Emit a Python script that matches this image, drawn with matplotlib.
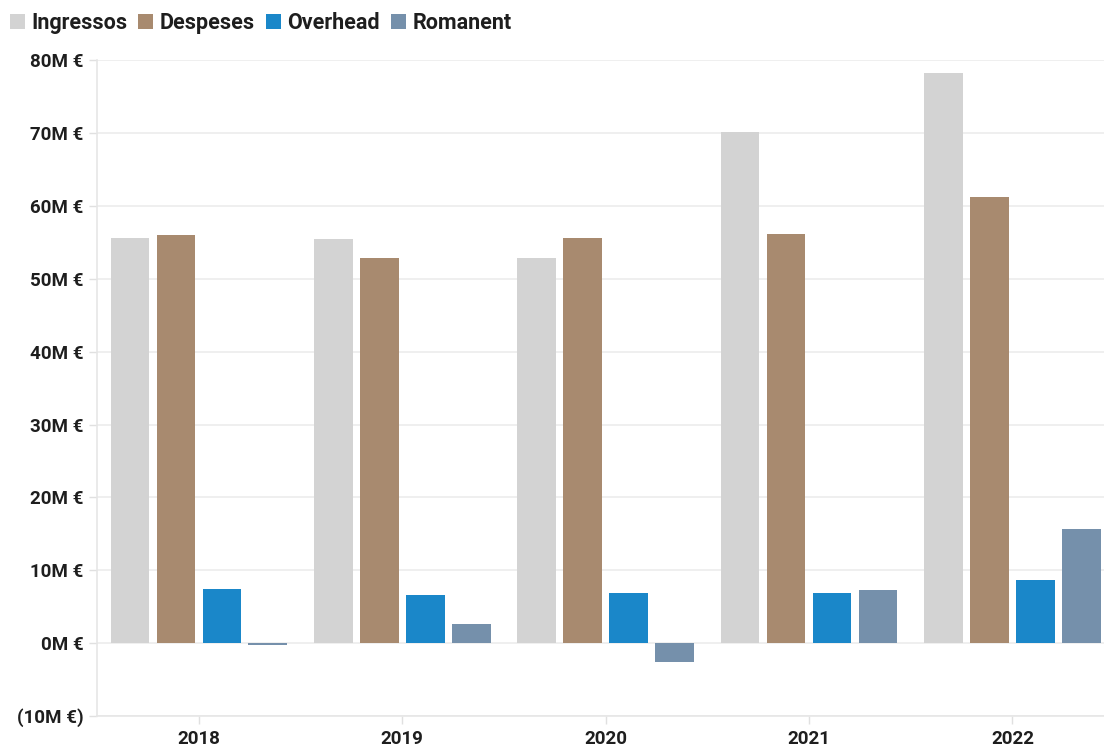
import matplotlib.pyplot as plt
import numpy as np

# Ingressos / Despeses / Overhead / Romanent per year (M €)
years = ['2018', '2019', '2020', '2021', '2022']
ingressos = [55.6, 55.4, 52.8, 70.2, 78.2]
despeses = [56.0, 52.8, 55.6, 56.1, 61.2]
overhead = [7.4, 6.6, 6.9, 6.9, 8.6]
romanent = [-0.3, 2.6, -2.6, 7.3, 15.6]

yticks = [-10, 0, 10, 20, 30, 40, 50, 60, 70, 80]
ylabels = ['(10M €)'] + ['%dM €' % v for v in yticks[1:]]

plt.rcParams['font.family'] = ['Roboto', 'DejaVu Sans']

fig = plt.figure(figsize=(11.04, 7.47), dpi=100)
ax = fig.add_axes([0.088, 0.0415, 0.912, 0.878])

x = np.arange(len(years))
w = 0.19
step = 0.226
series = [('Ingressos', ingressos, '#d3d3d3'),
          ('Despeses', despeses, '#a88a6f'),
          ('Overhead', overhead, '#1a87c9'),
          ('Romanent', romanent, '#7590ab')]
for i, (name, vals, col) in enumerate(series):
    ax.bar(x + (i - 1.5) * step, vals, w, color=col, label=name, zorder=3)

ax.set_ylim(-10, 80)
ax.set_xlim(-0.5, 4.45)
ax.set_yticks(yticks)
ax.set_yticklabels(ylabels, fontsize=13.5, fontweight='bold')
ax.set_xticks(x)
ax.set_xticklabels(years, fontsize=13.5, fontweight='bold')
ax.grid(axis='y', color='#ececec', linewidth=1.2, zorder=0)
for s in ['top', 'right']:
    ax.spines[s].set_visible(False)
for s in ['left', 'bottom']:
    ax.spines[s].set_color('#e6e6e6')
    ax.spines[s].set_linewidth(1.2)
ax.tick_params(axis='both', color='#e0e0e0', length=6, width=1, pad=4, labelcolor='#1e1e1e')

leg = fig.legend(loc='upper left', bbox_to_anchor=(10 / 1104, 1 - 12 / 747), ncol=4,
                 frameon=False, fontsize=15.5, handlelength=0.7, handleheight=0.7,
                 handletextpad=0.3, columnspacing=0.5, borderpad=0, borderaxespad=0)
for t in leg.get_texts():
    t.set_color('#1e1e1e')
    t.set_fontweight('bold')

plt.savefig('out.png', dpi=100)
